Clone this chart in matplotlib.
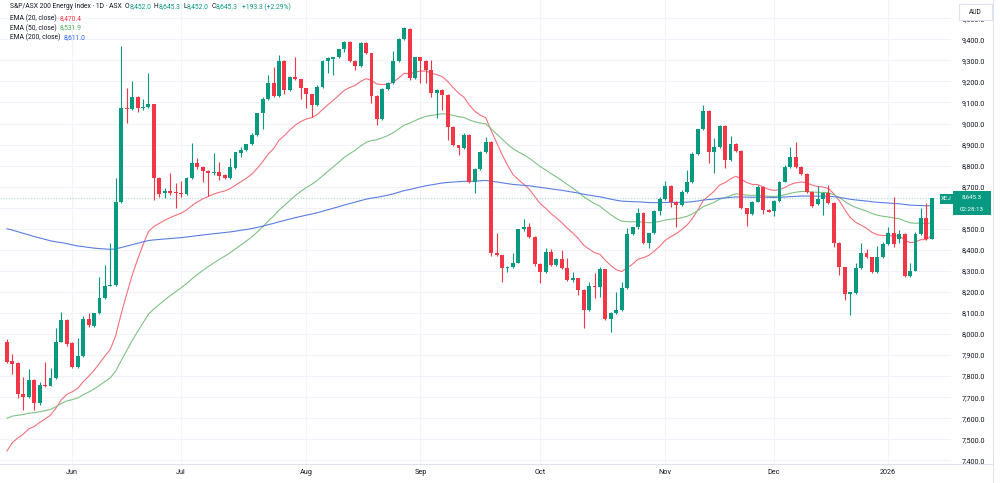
import numpy as np
import pandas as pd
import matplotlib
matplotlib.use("Agg")
import matplotlib.pyplot as plt
from matplotlib.patches import Rectangle
from matplotlib.lines import Line2D

plt.rcParams['font.family'] = ['Roboto', 'DejaVu Sans']

# daily OHLC, S&P/ASX 200 Energy (XEJ)
opens = [7964, 7872, 7862, 7715, 7702, 7782, 7671, 7760, 7755, 7790,
         7964, 8067, 7955, 7845, 7896, 8070, 8040, 8098, 8173, 8230,
         8232, 8626, 9075, 9068, 9127, 9072, 9078, 9092, 8740, 8668,
         8677, 8675, 8670, 8664, 8740, 8811, 8795, 8776, 8764, 8768,
         8755, 8740, 8790, 8862, 8874, 8903, 8945, 9048, 9118, 9194,
         9131, 9297, 9160, 9222, 9210, 9167, 9140, 9088, 9175, 9297,
         9308, 9318, 9352, 9386, 9297, 9275, 9381, 9333, 9131, 9021,
         9164, 9194, 9297, 9401, 9450, 9215, 9314, 9298, 9254, 9146,
         9159, 9135, 8985, 8898, 8885, 8945, 8724, 8784, 8866, 8911,
         8386, 8374, 8312, 8317, 8339, 8497, 8507, 8462, 8331, 8296,
         8388, 8328, 8355, 8312, 8257, 8265, 8209, 8114, 8230, 8222,
         8307, 8070, 8101, 8114, 8217, 8475, 8507, 8576, 8431, 8479,
         8584, 8640, 8705, 8629, 8613, 8676, 8721, 8854, 8973, 9061,
         8865, 8890, 8988, 8827, 8903, 8871, 8597, 8570, 8629, 8700,
         8589, 8586, 8633, 8724, 8795, 8842, 8795, 8760, 8676, 8616,
         8640, 8672, 8621, 8431, 8316, 8190, 8193, 8315, 8386, 8364,
         8296, 8364, 8428, 8481, 8450, 8475, 8276, 8301, 8475, 8550,
         8452]
highs = [7975, 7905, 7865, 7796, 7834, 7785, 7774, 7869, 7838, 8029,
         8106, 8070, 7960, 7981, 8086, 8100, 8100, 8271, 8328, 8432,
         8741, 9368, 9170, 9203, 9130, 9116, 9240, 9095, 8745, 8694,
         8766, 8717, 8728, 8746, 8909, 8836, 8800, 8780, 8860, 8819,
         8760, 8835, 8866, 8888, 8905, 8956, 9051, 9125, 9230, 9267,
         9325, 9300, 9225, 9316, 9212, 9170, 9142, 9183, 9300, 9315,
         9318, 9355, 9390, 9390, 9300, 9385, 9385, 9335, 9135, 9167,
         9197, 9346, 9405, 9460, 9452, 9318, 9318, 9300, 9302, 9162,
         9162, 9138, 8988, 8900, 8953, 8948, 8787, 8869, 8935, 8915,
         8480, 8376, 8322, 8384, 8500, 8545, 8526, 8465, 8335, 8407,
         8402, 8360, 8399, 8360, 8296, 8268, 8212, 8249, 8289, 8317,
         8310, 8105, 8201, 8249, 8502, 8510, 8597, 8580, 8482, 8588,
         8652, 8727, 8708, 8632, 8684, 8779, 8866, 8976, 9088, 9065,
         8930, 8992, 8992, 8942, 8906, 8874, 8600, 8632, 8708, 8703,
         8592, 8636, 8727, 8803, 8887, 8914, 8798, 8763, 8680, 8703,
         8675, 8708, 8625, 8435, 8320, 8200, 8339, 8434, 8402, 8367,
         8418, 8439, 8510, 8652, 8494, 8478, 8336, 8486, 8597, 8621,
         8645.3]
lows = [7860, 7810, 7696, 7639, 7697, 7639, 7665, 7750, 7752, 7788,
        7960, 7945, 7840, 7840, 7890, 8035, 8035, 8095, 8165, 8228,
        8230, 8620, 9002, 9065, 9055, 9064, 9075, 8637, 8652, 8646,
        8660, 8599, 8652, 8660, 8735, 8785, 8722, 8657, 8755, 8732,
        8735, 8735, 8785, 8842, 8870, 8900, 8940, 8975, 9110, 9125,
        9128, 9140, 9155, 9205, 9115, 9072, 9030, 9085, 9170, 9238,
        9230, 9310, 9340, 9290, 9254, 9270, 9330, 9099, 8993, 9018,
        9160, 9190, 9292, 9395, 9207, 9210, 9192, 9191, 9127, 9025,
        9064, 8922, 8895, 8850, 8880, 8716, 8669, 8780, 8860, 8371,
        8370, 8249, 8296, 8312, 8335, 8490, 8455, 8325, 8241, 8290,
        8325, 8324, 8308, 8253, 8249, 8185, 8027, 8110, 8170, 8177,
        8065, 8011, 8095, 8110, 8212, 8470, 8500, 8428, 8407, 8475,
        8565, 8635, 8605, 8510, 8608, 8670, 8715, 8850, 8970, 8811,
        8764, 8885, 8787, 8822, 8865, 8592, 8513, 8565, 8625, 8570,
        8578, 8561, 8628, 8720, 8790, 8790, 8755, 8672, 8603, 8613,
        8565, 8617, 8415, 8280, 8162, 8091, 8188, 8310, 8360, 8292,
        8292, 8360, 8424, 8415, 8434, 8272, 8270, 8297, 8470, 8447,
        8452]
closes = [7869, 7858, 7715, 7700, 7782, 7671, 7758, 7755, 7790, 7964,
          8067, 7953, 7845, 7896, 8070, 8043, 8098, 8173, 8230, 8232,
          8626, 9072, 9068, 9127, 9072, 9078, 9092, 8740, 8665, 8681,
          8672, 8668, 8664, 8740, 8811, 8792, 8776, 8764, 8771, 8751,
          8740, 8795, 8863, 8874, 8903, 8945, 9048, 9118, 9194, 9131,
          9297, 9159, 9222, 9210, 9167, 9140, 9088, 9175, 9297, 9310,
          9314, 9352, 9386, 9297, 9275, 9381, 9333, 9131, 9021, 9164,
          9194, 9297, 9401, 9452, 9215, 9314, 9298, 9254, 9146, 9159,
          9135, 8985, 8898, 8885, 8945, 8724, 8784, 8866, 8911, 8386,
          8374, 8312, 8320, 8339, 8497, 8507, 8462, 8331, 8296, 8388,
          8328, 8355, 8312, 8257, 8265, 8209, 8114, 8228, 8222, 8307,
          8070, 8101, 8114, 8217, 8475, 8507, 8576, 8431, 8479, 8584,
          8640, 8705, 8629, 8613, 8676, 8721, 8854, 8973, 9061, 8865,
          8890, 8988, 8827, 8903, 8871, 8597, 8570, 8629, 8700, 8589,
          8581, 8633, 8724, 8795, 8842, 8795, 8760, 8676, 8608, 8640,
          8672, 8621, 8431, 8320, 8190, 8198, 8315, 8386, 8364, 8296,
          8364, 8428, 8481, 8428, 8475, 8276, 8301, 8475, 8550, 8452,
          8645.3]

# EMA values at the first visible bar, and the legend values
ema_start = {20: 7445, 50: 7600, 200: 8500}
ema_legend = {20: 8470.4, 50: 8531.9, 200: 8611.0}
ema_colors = {20: '#f4707b', 50: '#7fc283', 200: '#5a7de3'}
ema_val_colors = {20: '#F23645', 50: '#4caf50', 200: '#2962ff'}

holidays = ['2025-06-09', '2025-12-25', '2025-12-26', '2026-01-01']
dates = pd.bdate_range('2025-05-15', periods=len(closes), freq='C', holidays=holidays)

o = np.array(opens, float)
h = np.array(highs, float)
l = np.array(lows, float)
c = np.array(closes, float)
x = np.arange(len(c))

UP = '#089981'
DOWN = '#F23645'
TXT = '#131722'

fig = plt.figure(figsize=(10, 4.83), dpi=100)
ax = fig.add_axes([0, 19 / 483, 951 / 1000, 464 / 483])
ax.set_xlim(-7 / 5.44, 944 / 5.44)
ax.set_ylim(7382.5, 9586.7)

# grid
levels = list(range(7400, 9600, 100))
for lvl in levels:
    ax.axhline(lvl, color='#f0f3fa', lw=0.8, zorder=0)
month_idx = [i for i in range(1, len(dates)) if dates[i].month != dates[i - 1].month]
month_lbl = ['2026' if dates[i].month == 1 else dates[i].strftime('%b') for i in month_idx]
for i in month_idx:
    ax.axvline(i, color='#f0f3fa', lw=0.8, zorder=0)

# EMAs
for n in (20, 50, 200):
    a = 2 / (n + 1)
    e = [ema_start[n]]
    for v in c[1:]:
        e.append(e[-1] + a * (v - e[-1]))
    ax.plot(x, e, color=ema_colors[n], lw=0.8, zorder=2)

# candles
col = np.where(c >= o, UP, DOWN)
ax.vlines(x, l, h, colors=col, lw=0.8, zorder=3)
body = np.maximum(np.abs(c - o), 4)
ax.bar(x, body, bottom=np.minimum(o, c), width=0.72, color=col, lw=0, zorder=4)

# last price line
ax.axhline(c[-1], color=UP, lw=0.8, ls=(0, (1, 1.5)), alpha=0.35, zorder=1)

ax.yaxis.tick_right()
ax.set_yticks(levels)
# the 8,600 label sits under the last-price box
ax.set_yticklabels(['' if v == 8600 else f'{v:,.1f}' for v in levels])
ax.set_xticks(month_idx)
ax.set_xticklabels(month_lbl)
ax.tick_params(axis='y', length=0, pad=8, labelsize=5.2, labelcolor=TXT)
ax.tick_params(axis='x', length=0, pad=3.5, labelsize=5.2, labelcolor=TXT)
for s in ax.spines.values():
    s.set_visible(False)


def fx(px):
    return px / 1000


def fy(py):
    return 1 - py / 483


# borders
fig.add_artist(Line2D([0, fx(993)], [fy(464), fy(464)], color='#e0e3eb', lw=0.8))
fig.add_artist(Line2D([fx(993), fx(993)], [0, 1], color='#e0e3eb', lw=0.8))

# AUD box
fig.add_artist(Rectangle((fx(959), fy(20)), fx(33), 16 / 483, facecolor='white',
                         edgecolor='#e0e3eb', lw=0.8, zorder=5))
fig.text(fx(975.5), fy(12), 'AUD', fontsize=4.8, color=TXT, ha='center', va='center', zorder=6)

# price label
fig.add_artist(Rectangle((fx(953), fy(215)), fx(38), 24 / 483, facecolor=UP, lw=0, zorder=5))
fig.text(fx(972), fy(197), f'{c[-1]:,.1f}', fontsize=4.4, color='white', ha='center', va='center', zorder=6)
fig.text(fx(972), fy(209.5), '02:28:13', fontsize=4.4, color='white', ha='center', va='center', zorder=6)
fig.add_artist(Rectangle((fx(940), fy(204)), fx(12.5), 10 / 483, facecolor=UP, lw=0, zorder=5))
fig.text(fx(946.3), fy(199), 'XEJ', fontsize=4.4, color='white', ha='center', va='center', zorder=6)

# legend, pieces placed one after another
renderer = fig.canvas.get_renderer()


def chain(parts, x0, py, size=4.85):
    xpos = x0
    for t, cc, gap in parts:
        tx = fig.text(fx(xpos), fy(py), t, fontsize=size, color=cc, va='center')
        xpos = tx.get_window_extent(renderer=renderer).x1 + gap


chg = c[-1] - c[-2]
pct = chg / c[-2] * 100
chain([('S&P/ASX 200 Energy Index · 1D · ASX', TXT, 2.5),
       ('O', TXT, 0.4), (f'{o[-1]:,.1f}', UP, 2.5),
       ('H', TXT, 0.4), (f'{h[-1]:,.1f}', UP, 2.5),
       ('L', TXT, 0.4), (f'{l[-1]:,.1f}', UP, 2.5),
       ('C', TXT, 0.4), (f'{c[-1]:,.1f}', UP, 4),
       (f'+{chg:,.1f} (+{pct:.2f}%)', UP, 0)], 10, 7)

for n, py in ((20, 18.7), (50, 28), (200, 37.3)):
    chain([(f'EMA ({n}, close)', TXT, 3),
           (f'{ema_legend[n]:,.1f}', ema_val_colors[n], 0)], 10, py)

fig.savefig('out.png', dpi=100, facecolor='white')
